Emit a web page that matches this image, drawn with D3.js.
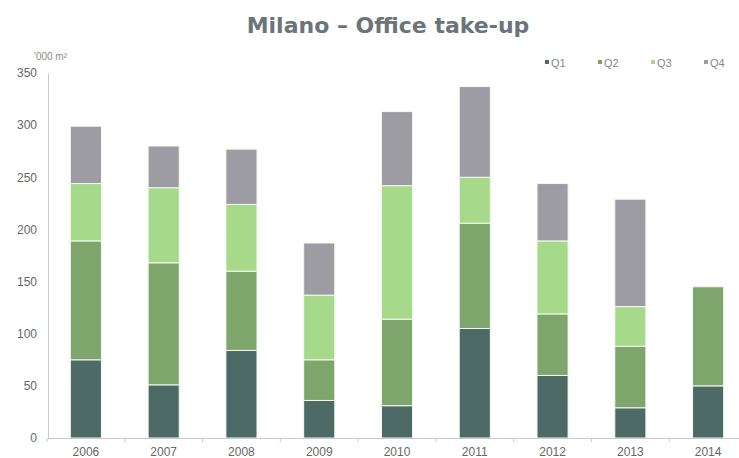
<!DOCTYPE html>
<html>
<head>
<meta charset="utf-8">
<script src="https://cdn.jsdelivr.net/npm/d3@7"></script>
<style>
  body { margin: 0; background: #fff; }
  svg { display: block; }
</style>
</head>
<body>
<div id="chart"></div>
<script>
// Data
const years = ["2006", "2007", "2008", "2009", "2010", "2011", "2012", "2013", "2014"];
const quarters = ["Q1", "Q2", "Q3", "Q4"];
const q1 = [75, 51, 84, 36, 31, 105, 60, 29, 50];
const q2 = [114, 117, 76, 39, 83, 101, 59, 59, 95];
const q3 = [55, 72, 64, 62, 128, 44, 70, 38, 0];
const q4 = [55, 40, 53, 50, 71, 87, 55, 103, 0];
const yTicks = [0, 50, 100, 150, 200, 250, 300, 350];

const colors = ["#4e6a67", "#7ea56c", "#a6d98a", "#9d9ca3"];

const width = 739, height = 458;
const svg = d3.select("#chart")
  .append("svg")
  .attr("width", width)
  .attr("height", height);

const rows = years.map((y, i) => ({ year: y, Q1: q1[i], Q2: q2[i], Q3: q3[i], Q4: q4[i] }));
const series = d3.stack().keys(quarters)(rows);

const x = d3.scaleBand()
  .domain(years)
  .range([47, 747])
  .paddingInner(0.6)
  .paddingOuter(0.3);

const y = d3.scaleLinear()
  .domain([0, 350])
  .range([438, 73]);

// title
svg.append("text")
  .attr("x", 388)
  .attr("y", 33)
  .attr("text-anchor", "middle")
  .attr("font-family", "DejaVu Sans")
  .attr("font-weight", "bold")
  .attr("font-size", 22)
  .attr("fill", "#6b7479")
  .text("Milano – Office take-up");

// unit label
svg.append("text")
  .attr("x", 34)
  .attr("y", 60)
  .attr("font-family", "Liberation Sans, Arial")
  .attr("font-size", 10)
  .attr("fill", "#8a8a8a")
  .text("'000 m²");

// bars
svg.append("g")
  .selectAll("g")
  .data(series)
  .enter()
  .append("g")
  .attr("fill", (_, i) => colors[i])
  .selectAll("rect")
  .data(d => d)
  .enter()
  .append("rect")
  .attr("x", d => x(d.data.year))
  .attr("width", x.bandwidth())
  .attr("y", d => y(d[1]))
  .attr("height", d => Math.max(0, y(d[0]) - y(d[1])))
  .attr("stroke", "#f4faf0")
  .attr("stroke-width", d => (d[1] - d[0]) > 0 ? 1 : 0);

// y axis
const yAxis = svg.append("g")
  .attr("transform", "translate(48,0)")
  .call(d3.axisLeft(y).tickValues(yTicks).tickSize(0).tickPadding(11));
yAxis.select(".domain").attr("stroke", "#c8ccd2");
yAxis.selectAll("text")
  .attr("font-family", "Liberation Sans, Arial")
  .attr("font-size", 12)
  .attr("fill", "#666");

// x axis
const xAxis = svg.append("g")
  .attr("transform", "translate(0,438)")
  .call(d3.axisBottom(x).tickSize(0).tickPadding(9));
xAxis.select(".domain")
  .attr("stroke", "#c8ccd2")
  .attr("d", "M48,0.5H739");
xAxis.selectAll("text")
  .attr("font-family", "Liberation Sans, Arial")
  .attr("font-size", 12)
  .attr("fill", "#666");

// tick marks between categories
svg.append("g")
  .selectAll("line")
  .data(years)
  .enter()
  .append("line")
  .attr("x1", d => x(d) - x.step() * x.paddingInner() / 2)
  .attr("x2", d => x(d) - x.step() * x.paddingInner() / 2)
  .attr("y1", 438)
  .attr("y2", 442)
  .attr("stroke", "#c8ccd2");

// legend
const legendX = [545, 598, 651, 704];
const legend = svg.append("g")
  .selectAll("g")
  .data(quarters)
  .enter()
  .append("g")
  .attr("transform", (_, i) => `translate(${legendX[i]},64)`);
legend.append("rect")
  .attr("x", 0)
  .attr("y", -4)
  .attr("width", 4)
  .attr("height", 4)
  .attr("fill", (_, i) => colors[i]);
legend.append("text")
  .attr("x", 6)
  .attr("y", -1)
  .attr("dy", "0.35em")
  .attr("font-family", "Liberation Sans, Arial")
  .attr("font-size", 11)
  .attr("fill", "#888")
  .text(d => d);
</script>
</body>
</html>
